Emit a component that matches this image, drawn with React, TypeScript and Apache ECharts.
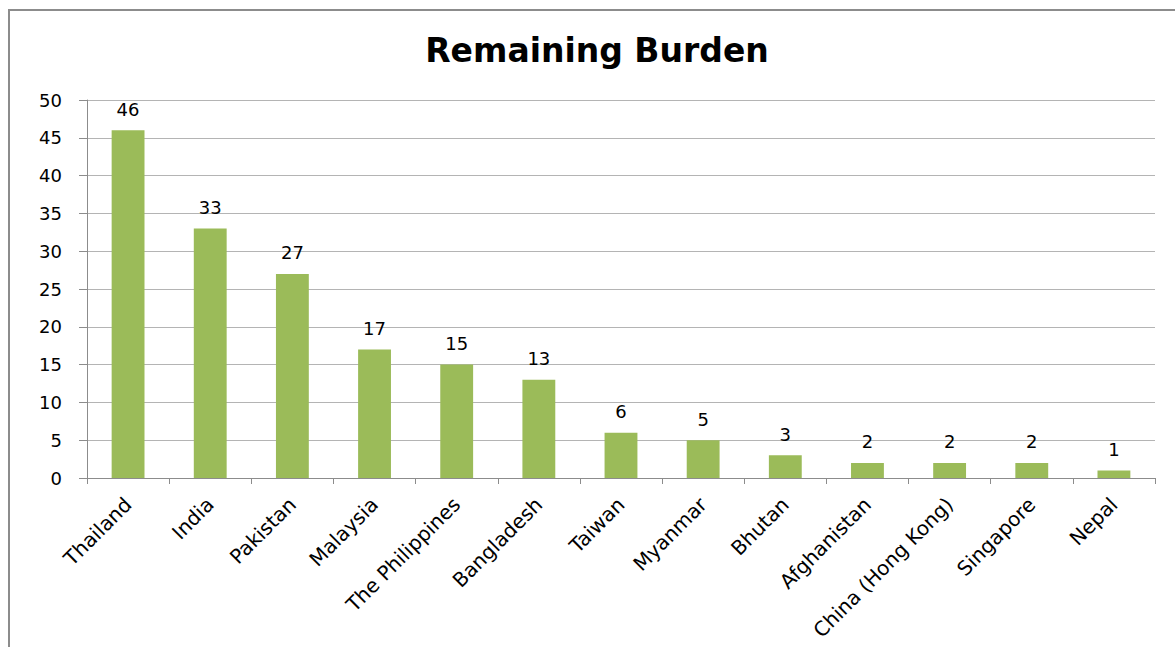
import React, { useEffect, useRef } from "react";
import * as echarts from "echarts";

const categories = [
  "Thailand",
  "India",
  "Pakistan",
  "Malaysia",
  "The Philippines",
  "Bangladesh",
  "Taiwan",
  "Myanmar",
  "Bhutan",
  "Afghanistan",
  "China (Hong Kong)",
  "Singapore",
  "Nepal",
];
const values = [46, 33, 27, 17, 15, 13, 6, 5, 3, 2, 2, 2, 1];
const titleText = "Remaining Burden";

const FONT = "'DejaVu Sans', sans-serif";

export default function App() {
  const ref = useRef<HTMLDivElement>(null);
  useEffect(() => {
    if (!ref.current) return;
    const chart = echarts.init(ref.current, undefined, { renderer: "svg" });
    chart.setOption({
      animation: false,
      backgroundColor: "#fff",
      title: {
        text: titleText,
        left: 592,
        top: 29,
        textAlign: "center",
        textStyle: {
          fontFamily: FONT,
          fontWeight: "bold",
          fontSize: 33,
          color: "#000",
        },
      },
      graphic: [
        {
          type: "polyline",
          shape: { points: [[9, 647], [9, 10], [1175, 10]] },
          style: { stroke: "#8c8c8c", lineWidth: 2, fill: "none" },
          silent: true,
        },
      ],
      grid: { left: 87, right: 20, top: 100, bottom: 169, containLabel: false },
      xAxis: {
        type: "category",
        data: categories,
        axisLine: { show: true, lineStyle: { color: "#8c8c8c", width: 1 } },
        axisTick: { show: true, length: 6, alignWithLabel: false, lineStyle: { color: "#8c8c8c" } },
        axisLabel: {
          rotate: 45,
          interval: 0,
          margin: 23,
          fontFamily: FONT,
          fontSize: 20,
          color: "#000",
        },
      },
      yAxis: {
        type: "value",
        min: 0,
        max: 50,
        interval: 5,
        axisLine: { show: true, lineStyle: { color: "#8c8c8c", width: 1 } },
        axisTick: { show: true, length: 8, inside: false, lineStyle: { color: "#8c8c8c" } },
        splitLine: { show: true, lineStyle: { color: "#b4b4b4", width: 1 } },
        axisLabel: {
          margin: 25,
          fontFamily: FONT,
          fontSize: 18,
          color: "#000",
        },
      },
      series: [
        {
          type: "bar",
          data: values,
          barWidth: "40%",
          itemStyle: { color: "#9bbb59" },
          label: {
            show: true,
            position: "top",
            distance: 12,
            fontFamily: FONT,
            fontSize: 18,
            color: "#000",
          },
        },
      ],
    });
    return () => chart.dispose();
  }, []);
  return <div ref={ref} style={{ width: 1175, height: 647, position: "absolute", left: 0, top: 0 }} />;
}
